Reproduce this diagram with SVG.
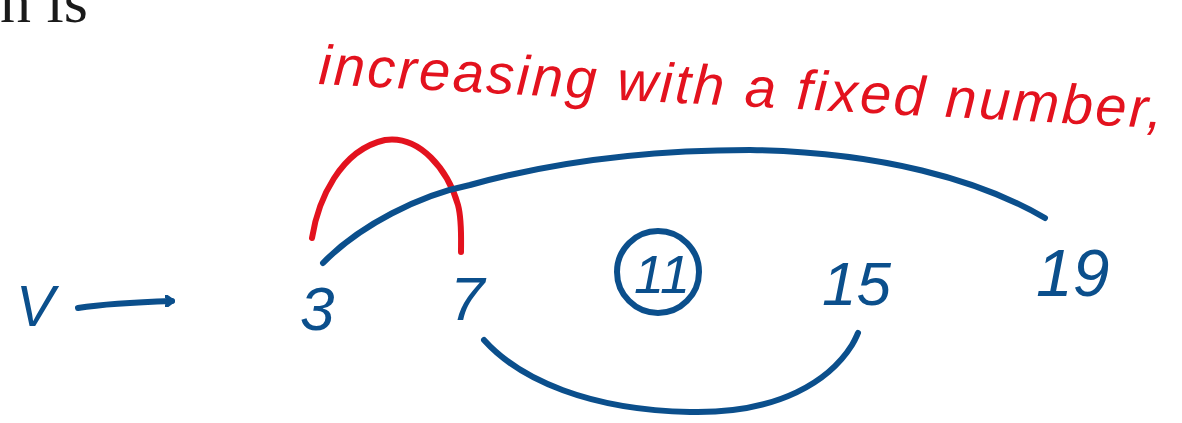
<svg xmlns="http://www.w3.org/2000/svg" width="1182" height="423" viewBox="0 0 1182 423">
<style>
.ink{fill:none;stroke-linecap:round;stroke-linejoin:round}
.blue{stroke:#0b4f8c;stroke-width:6}
.red{stroke:#e3121e;stroke-width:6}
.hb{font-family:"Liberation Sans","DejaVu Sans",sans-serif;font-style:italic;fill:#0b4f8c}
.hr{font-family:"Liberation Sans","DejaVu Sans",sans-serif;font-style:italic;fill:#e3121e}
</style>
<defs>
<marker id="ah" markerWidth="10" markerHeight="12" refX="7" refY="6" orient="auto" markerUnits="userSpaceOnUse">
<path d="M1,1 L8,6 L1,11" fill="none" stroke="#0b4f8c" stroke-width="4" stroke-linecap="round"/>
</marker>
</defs>
<rect width="1182" height="423" fill="#fff"/>
<text x="0" y="22" font-family="Liberation Serif,serif" font-size="62" fill="#1a1a1a">n is</text>
<text class="hr" x="318" y="84" font-size="56" textLength="845" transform="rotate(3 318 84)">increasing with a fixed number,</text>
<g id="connectors">
<path class="ink red" d="M312,238 C318,200 340,150 385,140 C420,135 448,170 458,205 C462,220 461,240 461,252"/>
<path class="ink blue" d="M323,263 C360,225 420,195 470,185 C560,160 650,150 750,150 C880,152 980,180 1045,218"/>
<path class="ink blue" d="M484,340 C520,380 590,410 690,412 C780,414 830,380 852,345 C855,340 857,335 858,333"/>
<path class="ink blue" d="M78,308 C110,303 140,302 172,301" marker-end="url(#ah)"/>
</g>
<g id="n-v"><text class="hb" x="16" y="326" font-size="58">V</text></g>
<g id="n-3"><text class="hb" x="300" y="330" font-size="62">3</text></g>
<g id="n-7"><text class="hb" x="450" y="320" font-size="62">7</text></g>
<g id="n-11"><circle class="ink blue" cx="658" cy="272" r="41" stroke-width="5"/><text class="hb" x="634" y="293" font-size="54">11</text></g>
<g id="n-15"><text class="hb" x="822" y="305" font-size="62">15</text></g>
<g id="n-19"><text class="hb" x="1036" y="296" font-size="66">19</text></g>
</svg>
